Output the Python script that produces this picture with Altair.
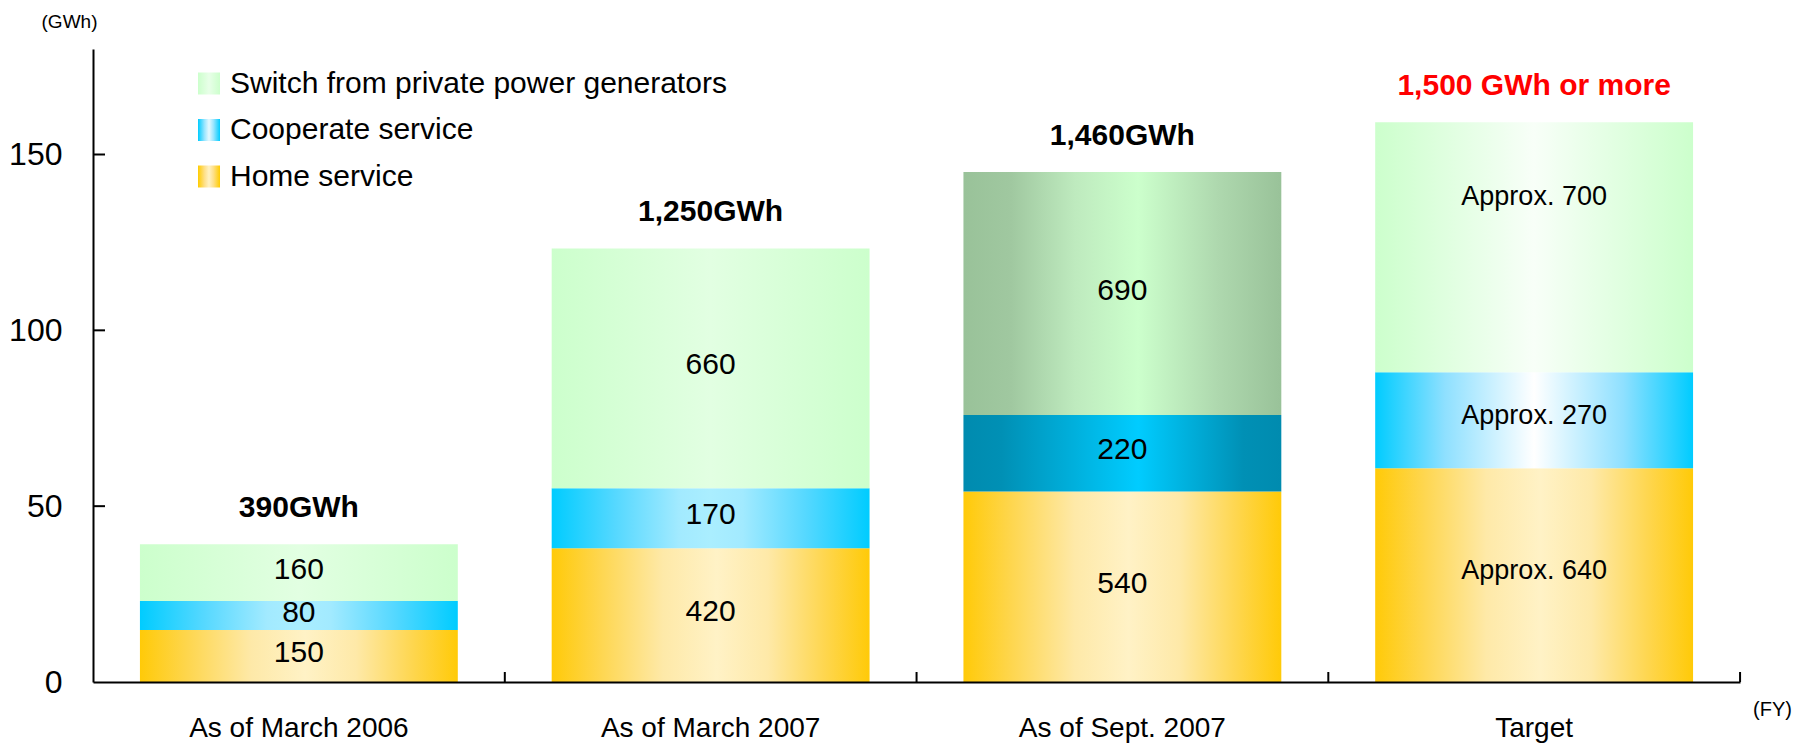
import altair as alt
import pandas as pd

# ---------------- data ----------------
periods = ["As of March 2006", "As of March 2007", "As of Sept. 2007", "Target"]
home = [14.8, 38.0, 54.2, 60.8]
coop = [8.2, 17.1, 21.7, 27.3]
switch = [16.2, 68.2, 69.1, 71.1]
home_labels = ["150", "420", "540", "Approx. 640"]
coop_labels = ["80", "170", "220", "Approx. 270"]
switch_labels = ["160", "660", "690", "Approx. 700"]
total_labels = ["390GWh", "1,250GWh", "1,460GWh", "1,500 GWh or more"]
series_names = ["Home service", "Cooperate service", "Switch from private power generators"]
y_tick_values = [0, 50, 100, 150]

FONT = "Liberation Sans, Arial, sans-serif"

rows = []
for i, p in enumerate(periods):
    base = 0.0
    for s, vals, labs in [(series_names[0], home, home_labels),
                          (series_names[1], coop, coop_labels),
                          (series_names[2], switch, switch_labels)]:
        v = vals[i]
        rows.append(dict(period=p, series=s, start=base, end=base + v,
                         mid=base + v / 2, label=labs[i], idx=i))
        base += v
df = pd.DataFrame(rows)

totals = pd.DataFrame({
    "period": periods,
    "total": [home[i] + coop[i] + switch[i] for i in range(len(periods))],
    "label": total_labels,
    "kind": ["actual", "actual", "actual", "target"],
})

W, H = 1647, 633

xscale = alt.Scale(domain=periods, paddingInner=0.228, paddingOuter=0.114)
yscale = alt.Scale(domain=[0, 180], nice=False, zero=True)

xaxis = alt.Axis(title="(FY)", ticks=False, domainColor="black", domainWidth=2,
                 labelFont=FONT, labelFontSize=28, labelColor="black", labelPadding=32,
                 labelLimit=600, labelAngle=0, titleFont=FONT, titleFontSize=20,
                 titleFontWeight="normal", titleColor="black", titleX=1679, titleY=27,
                 titleAlign="center", titleBaseline="middle", grid=False, zindex=1)
yaxis = alt.Axis(title="(GWh)", values=y_tick_values, ticks=False, domainColor="black",
                 domainWidth=2, labelFont=FONT, labelFontSize=32, labelColor="black",
                 labelPadding=31, labelFlush=False, titleAngle=0, titleFont=FONT,
                 titleFontSize=19, titleFontWeight="normal", titleColor="black",
                 titleX=-24, titleY=-28, titleAlign="center", titleBaseline="middle",
                 grid=False, zindex=1)

X = alt.X("period:N", scale=xscale, axis=xaxis, sort=periods)


def grad(stops):
    return alt.Gradient(gradient="linear",
                        stops=[alt.GradientStop(color=c, offset=o) for o, c in stops],
                        x1=0, x2=1, y1=0, y2=0)


HOME_G = grad([(0, "#FFCA08"), (0.15, "#FED64E"), (0.35, "#FEE9A8"), (0.52, "#FFF2C6"),
               (0.68, "#FEE9A8"), (0.86, "#FED64E"), (1, "#FFCA08")])
COOP_G = grad([(0, "#00CCFF"), (0.2, "#55D8FF"), (0.4, "#A2EAFF"), (0.5, "#AAEEFF"),
               (0.6, "#A2EAFF"), (0.8, "#55D8FF"), (1, "#00CCFF")])
COOP_DARK = grad([(0, "#008BAF"), (0.12, "#0090B5"), (0.55, "#00CCFF"), (0.88, "#0090B5"),
                  (1, "#008BAF")])
COOP_WHITE = grad([(0, "#00CCFF"), (0.22, "#8FE0FF"), (0.5, "#FFFFFF"), (0.78, "#8FE0FF"),
                   (1, "#00CCFF")])
SW_G = grad([(0, "#CCFFCC"), (0.5, "#E2FFE2"), (1, "#CCFFCC")])
SW_DARK = grad([(0, "#99C299"), (0.15, "#A0C8A0"), (0.35, "#BEEABE"), (0.55, "#CCFFCC"),
                (0.8, "#AED8AE"), (1, "#99C299")])
SW_WHITE = grad([(0, "#CCFFCC"), (0.5, "#F8FFF8"), (1, "#CCFFCC")])


def bars(series, cond, g):
    return (alt.Chart(df)
            .transform_filter(f"datum.series == '{series}' && ({cond})")
            .mark_bar(fill=g, strokeWidth=0)
            .encode(x=X,
                    y=alt.Y("start:Q", scale=yscale, axis=yaxis),
                    y2="end:Q"))


layers = [
    bars(series_names[0], "true", HOME_G),
    bars(series_names[1], "datum.idx < 2", COOP_G),
    bars(series_names[1], "datum.idx == 2", COOP_DARK),
    bars(series_names[1], "datum.idx == 3", COOP_WHITE),
    bars(series_names[2], "datum.idx < 2", SW_G),
    bars(series_names[2], "datum.idx == 2", SW_DARK),
    bars(series_names[2], "datum.idx == 3", SW_WHITE),
]

# segment labels
seg_num = (alt.Chart(df).transform_filter("datum.idx < 3")
           .mark_text(font=FONT, fontSize=30, color="black", baseline="middle", dy=-3)
           .encode(x=X, y=alt.Y("mid:Q", scale=yscale, axis=yaxis), text="label:N"))
seg_t1 = (alt.Chart(df).transform_filter(f"datum.idx == 3 && datum.series != '{series_names[2]}'")
          .mark_text(font=FONT, fontSize=27, color="black", baseline="middle", dy=-4)
          .encode(x=X, y=alt.Y("mid:Q", scale=yscale, axis=yaxis), text="label:N"))
seg_t2 = (alt.Chart(df).transform_filter(f"datum.idx == 3 && datum.series == '{series_names[2]}'")
          .mark_text(font=FONT, fontSize=27, color="black", baseline="middle", dy=-50)
          .encode(x=X, y=alt.Y("mid:Q", scale=yscale, axis=yaxis), text="label:N"))

tot = (alt.Chart(totals)
       .mark_text(font=FONT, fontSize=30, fontWeight="bold", baseline="middle", dy=-36)
       .encode(x=X, y=alt.Y("total:Q", scale=yscale, axis=yaxis), text="label:N",
               color=alt.Color("kind:N", scale=alt.Scale(domain=["actual", "target"],
                                                         range=["black", "#FF0000"]),
                               legend=None)))

# axis ticks pointing inwards
xticks = (alt.Chart(pd.DataFrame({"period": periods}))
          .mark_rule(color="black", strokeWidth=2, xOffset=47)
          .encode(x=alt.X("period:N", scale=xscale, axis=xaxis, bandPosition=1),
                  y=alt.value(H), y2=alt.value(H - 10)))
yticks = (alt.Chart(pd.DataFrame({"v": y_tick_values[1:]}))
          .mark_rule(color="black", strokeWidth=2)
          .encode(y=alt.Y("v:Q", scale=yscale, axis=yaxis),
                  x=alt.value(0), x2=alt.value(12)))

# legend (top to bottom: switch, cooperate, home)
leg_grads = [grad([(0, "#CCFFCC"), (0.5, "#E8FFE8"), (1, "#CCFFCC")]),
             grad([(0, "#00CCFF"), (0.3, "#9BE6FF"), (0.5, "#E6F9FF"), (0.7, "#9BE6FF"),
                   (1, "#00CCFF")]),
             grad([(0, "#FFCC00"), (0.3, "#FEE08A"), (0.5, "#FFF2C4"), (0.7, "#FEE08A"),
                   (1, "#FFCC00")])]
leg_order = [series_names[2], series_names[1], series_names[0]]
leg_layers = []
for k, (name, g) in enumerate(zip(leg_order, leg_grads)):
    cy = 34.5 + k * 46.5
    d = pd.DataFrame({"label": [name]})
    leg_layers.append(alt.Chart(d).mark_rect(fill=g).encode(
        x=alt.value(105), x2=alt.value(127), y=alt.value(cy - 11), y2=alt.value(cy + 11)))
    leg_layers.append(alt.Chart(d).mark_text(font=FONT, fontSize=30, color="black",
                                             align="left", baseline="middle").encode(
        x=alt.value(137), y=alt.value(cy), text="label:N"))

chart = alt.layer(*layers, seg_num, seg_t1, seg_t2, tot, xticks, yticks, *leg_layers).properties(
    width=W, height=H,
    autosize=alt.AutoSizeParams(type="none"),
    padding={"left": 93, "top": 49, "right": 67, "bottom": 62},
).configure_view(stroke="transparent")

chart.save("out.html", embed_options={"renderer": "svg", "actions": False})
